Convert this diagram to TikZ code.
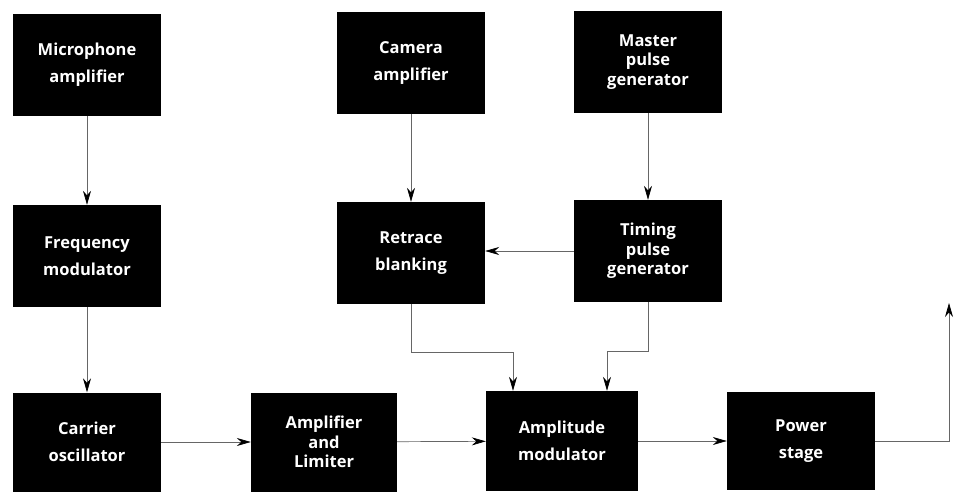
\documentclass[tikz,border=0pt]{standalone}
\usepackage{fontspec}
\setmainfont{Open Sans}
\usetikzlibrary{arrows.meta, positioning}

\tikzset{
    blk/.style={fill=black, text=white, align=center, inner sep=0pt,
        minimum width=148pt, minimum height=102pt,
        font=\fontsize{16.5}{27}\selectfont\bfseries},
    blkthree/.style={blk, font=\fontsize{16.5}{19.5}\selectfont\bfseries},
    wire/.style={draw=black!60, line width=0.7pt, -{Stealth[length=14pt, width=8pt, color=black]}}
}

\begin{document}
\begin{tikzpicture}[x=1pt, y=-1pt]
    \useasboundingbox (0,0) rectangle (960,495);

    \node[blk] (mic) at (87, 65) {Microphone\\amplifier};
    \node[blk] (cam) at (411, 63) {Camera\\amplifier};
    \node[blkthree] (mast) at (648, 62) {Master\\pulse\\generator};

    \node[blk] (freq) at (87, 256) {Frequency\\modulator};
    \node[blk] (retr) at (411, 253) {Retrace\\blanking};
    \node[blkthree] (tim) at (648, 251) {Timing\\pulse\\generator};

    \node[blk, minimum height=99pt] (carr) at (87, 442) {Carrier\\oscillator};
    \node[blkthree, minimum width=146pt, minimum height=99pt] (ampl) at (324, 442) {Amplifier\\and\\Limiter};
    \node[blk, minimum width=152pt, minimum height=100pt] (amod) at (562, 441) {Amplitude\\modulator};
    \node[blk, minimum height=98pt] (pwr) at (801, 441) {Power\\stage};

    \coordinate (out) at (949, 303);

    \draw[wire] (mic) -- (freq);
    \draw[wire] (freq) -- (carr);
    \draw[wire] (cam) -- (retr);
    \draw[wire] (mast) -- (tim);
    \draw[wire] (tim.west) -- (tim.west -| retr.east);

    \draw[wire] (carr) -- (ampl);
    \draw[wire] (ampl) -- (amod);
    \draw[wire] (amod) -- (pwr);
    \draw[wire] (pwr.east) -| (out);

    \draw[wire] (retr.south) |- ([xshift=-49pt, yshift=38pt]amod.north) -- ([xshift=-49pt]amod.north);
    \draw[wire] (tim.south) |- ([xshift=45pt, yshift=39pt]amod.north) -- ([xshift=45pt]amod.north);
\end{tikzpicture}
\end{document}
